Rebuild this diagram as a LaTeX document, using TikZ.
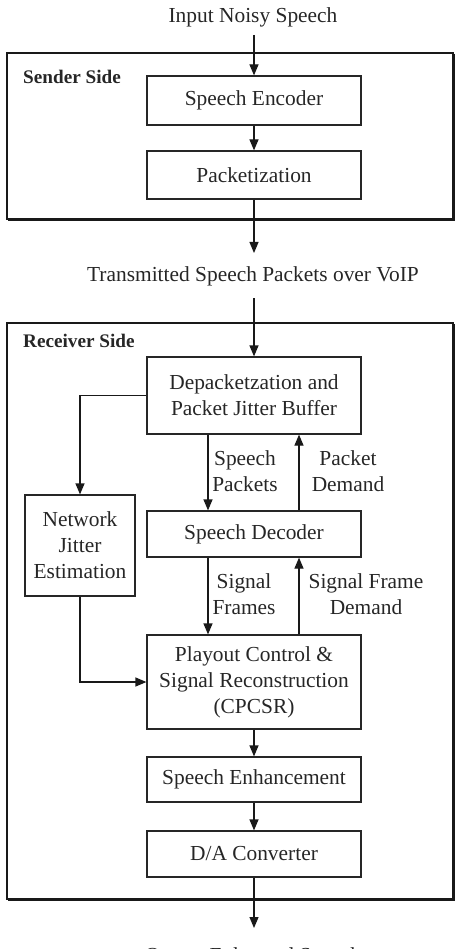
\documentclass[tikz,border=0pt]{standalone}
\usepackage{fontspec}
\setmainfont{Liberation Serif}
\usetikzlibrary{arrows.meta}
\begin{document}
\begin{tikzpicture}[x=1pt,y=-1pt,
  every node/.style={font=\fontsize{21.4}{26}\selectfont, text=black!85},
  blk/.style={draw=black!85, line width=1.2pt, minimum width=214pt, inner sep=0pt, align=center},
  grp/.style={draw=black!90, line width=1.3pt},
  lab/.style={align=center, inner sep=0pt},
  side/.style={font=\fontsize{19.2}{23}\selectfont\bfseries, anchor=west, inner sep=0pt},
  arr/.style={draw=black!90, line width=1.2pt, -{Triangle[length=11pt,width=9pt]}},
  ln/.style={draw=black!90, line width=1.2pt}]
\useasboundingbox (0,0) rectangle (461,949);
% outer groups
\draw[grp] (7,53) rectangle (453,219);
\draw[ln, line width=1.6pt] (454.5,54) -- (454.5,220.5) -- (8,220.5);
\draw[grp] (7,323) rectangle (453,899);
\draw[ln, line width=1.6pt] (454.5,324) -- (454.5,900.5) -- (8,900.5);
\node[side] (sender) at (23,77) {Sender Side};
\node[side] (receiver) at (23,341) {Receiver Side};
% texts
\node[lab] (in) at (253,17) {Input Noisy Speech};
\node[lab] (tx) at (253,276) {Transmitted Speech Packets over VoIP};
\node[lab, anchor=base] (out) at (253,962) {Output Enhanced Speech};
% blocks
\node[blk, minimum height=49pt] (enc) at (254,100.5) {Speech Encoder};
\node[blk, minimum height=48pt] (pack) at (254,175) {Packetization};
\node[blk, minimum height=77pt] (depack) at (254,395.5) {Depacketzation and\\Packet Jitter Buffer};
\node[blk, minimum width=110pt, minimum height=101pt] (nje) at (80,545.5) {Network\\Jitter\\Estimation};
\node[blk, minimum height=46pt] (dec) at (254,534) {Speech Decoder};
\node[blk, minimum height=94pt] (play) at (254,682) {Playout Control \&\\Signal Reconstruction\\(CPCSR)};
\node[blk, minimum height=45pt] (enh) at (254,779.5) {Speech Enhancement};
\node[blk, minimum height=46pt] (da) at (254,854) {D/A Converter};
% edge labels
\node[lab] (lsp) at (245,471) {Speech\\Packets};
\node[lab] (lpd) at (348,471) {Packet\\Demand};
\node[lab] (lsf) at (244,594.5) {Signal\\Frames};
\node[lab] (lsfd) at (366,594.5) {Signal Frame\\Demand};
% helper coordinates
\coordinate (spx) at (208,0);
\coordinate (pdx) at (299,0);
\coordinate (inend) at (254,35);
\coordinate (txtop) at (254,253);
\coordinate (txbot) at (254,298);
\coordinate (outtop) at (254,928);
% arrows
\draw[arr] (inend) -- (enc.north);
\draw[arr] (enc.south) -- (pack.north);
\draw[arr] (pack.south) -- (txtop);
\draw[arr] (txbot) -- (depack.north);
\draw[arr] (depack.west) -| (nje.north);
\draw[arr] (nje.south) |- (play.west);
\draw[arr] (depack.south -| spx) -- (dec.north -| spx);
\draw[arr] (dec.north -| pdx) -- (depack.south -| pdx);
\draw[arr] (dec.south -| spx) -- (play.north -| spx);
\draw[arr] (play.north -| pdx) -- (dec.south -| pdx);
\draw[arr] (play.south) -- (enh.north);
\draw[arr] (enh.south) -- (da.north);
\draw[arr] (da.south) -- (outtop);
\end{tikzpicture}
\end{document}
